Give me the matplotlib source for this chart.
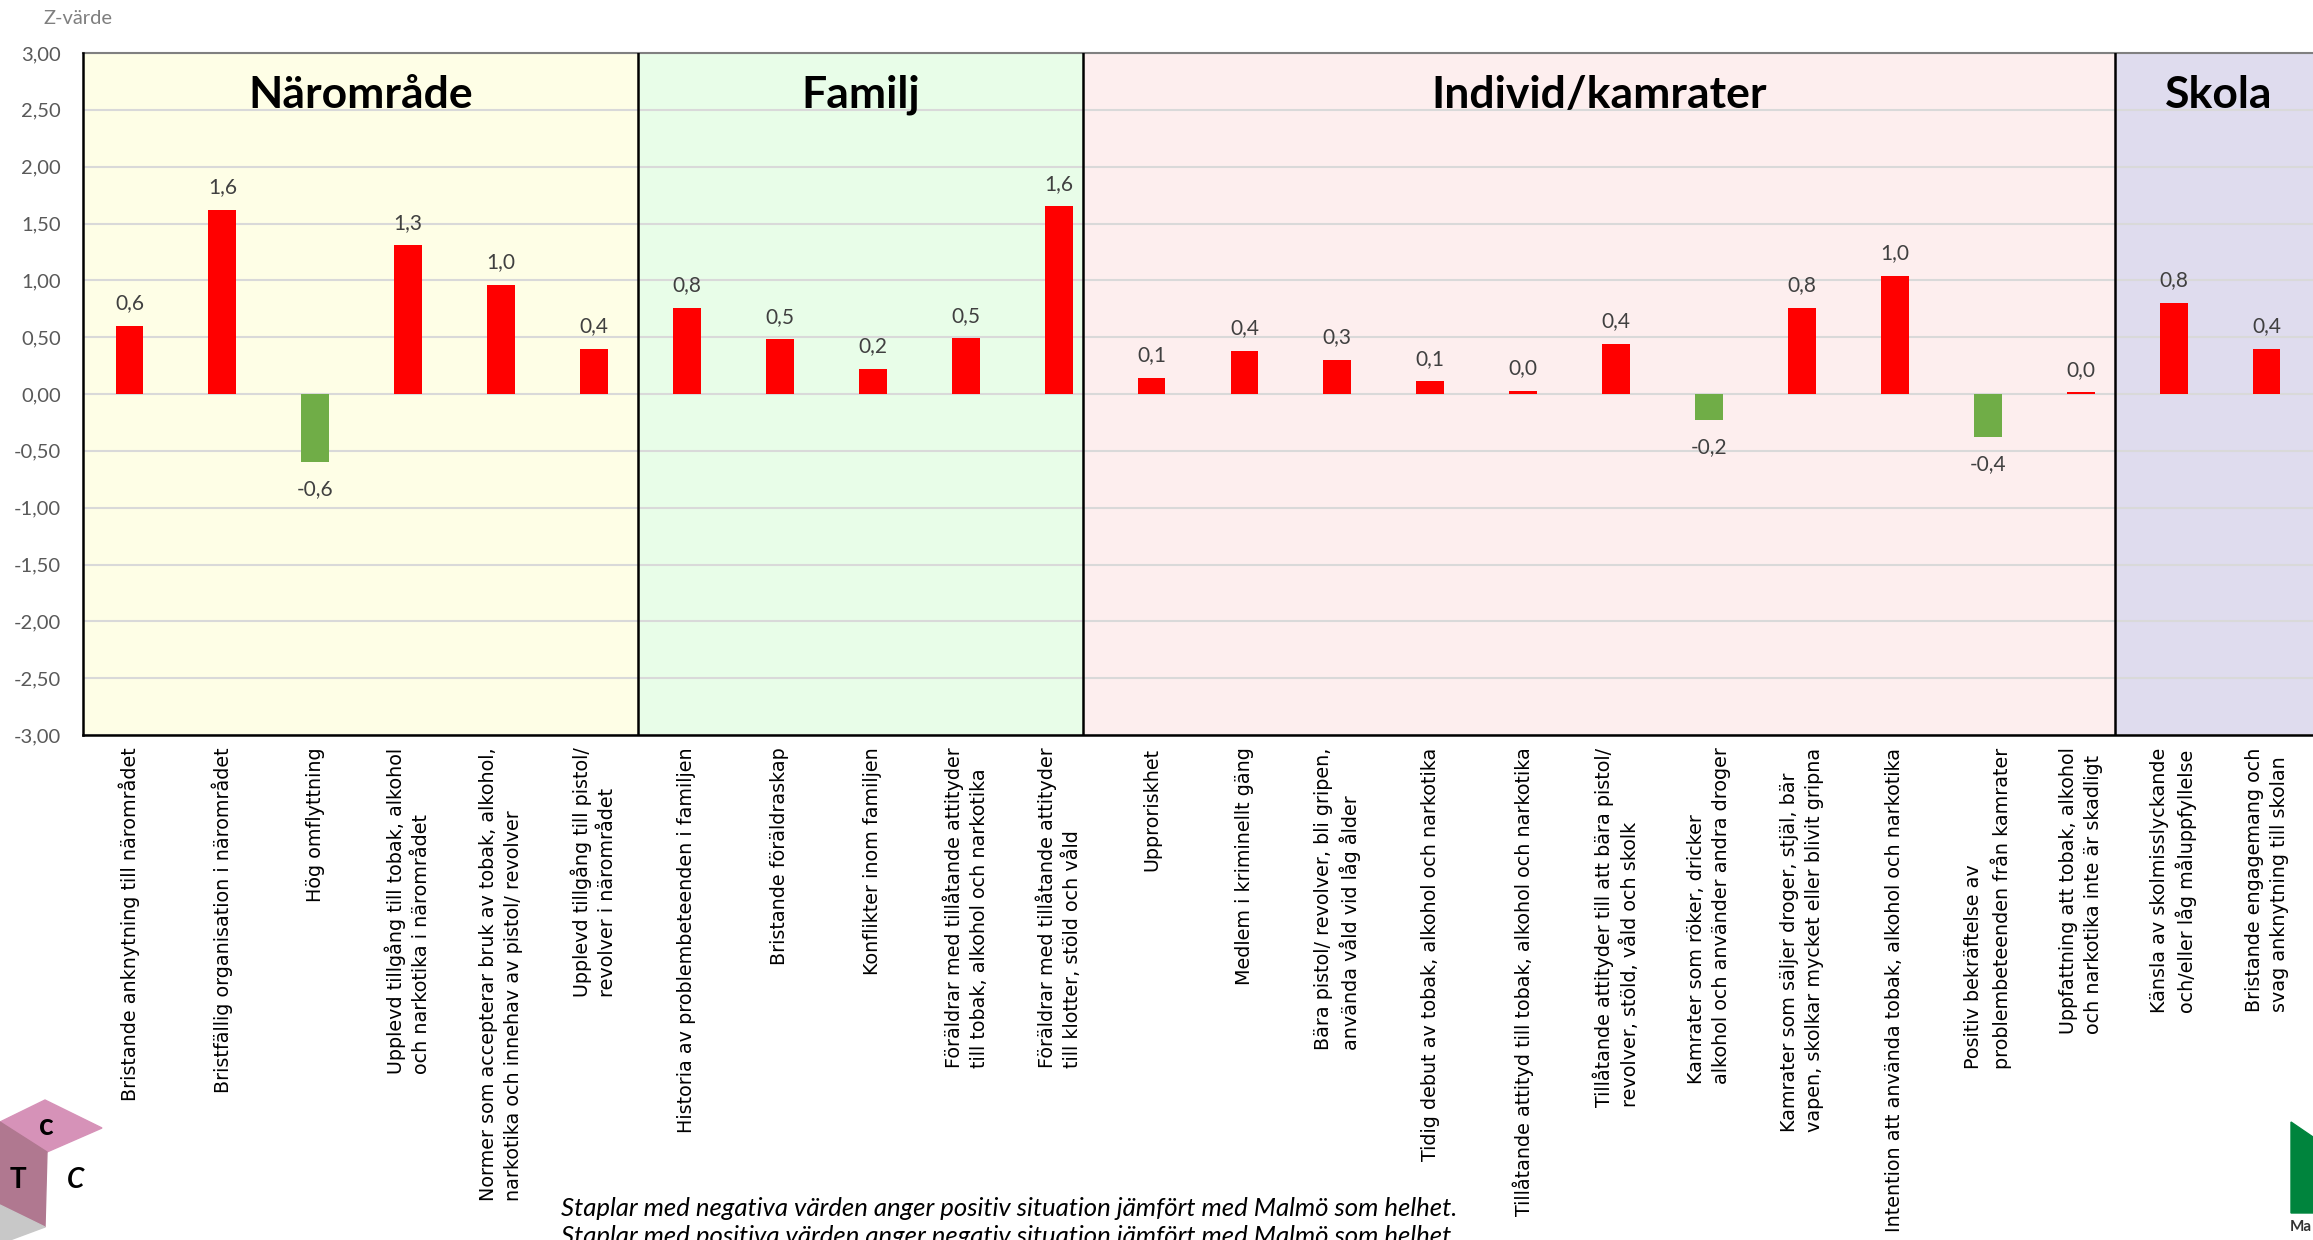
import matplotlib.pyplot as plt
import matplotlib.patches as mpatches
import numpy as np

# data
sections = ['Närområde', 'Familj', 'Individ/kamrater', 'Skola']
section_sizes = [6, 5, 11, 2]
section_colors = ['#FEFEE6', '#E8FDE8', '#FDEEEE', '#DFDCEE']

labels = [
    "Bristande anknytning till närområdet",
    "Bristfällig organisation i närområdet",
    "Hög omflyttning",
    "Upplevd tillgång till tobak, alkohol\noch narkotika i närområdet",
    "Normer som accepterar bruk av tobak, alkohol,\nnarkotika och innehav av pistol/ revolver",
    "Upplevd tillgång till pistol/\nrevolver i närområdet",
    "Historia av problembeteenden i familjen",
    "Bristande föräldraskap",
    "Konflikter inom familjen",
    "Föräldrar med tillåtande attityder\ntill tobak, alkohol och narkotika",
    "Föräldrar med tillåtande attityder\ntill klotter, stöld och våld",
    "Upproriskhet",
    "Medlem i kriminellt gäng",
    "Bära pistol/ revolver, bli gripen,\nanvända våld vid låg ålder",
    "Tidig debut av tobak, alkohol och narkotika",
    "Tillåtande attityd till tobak, alkohol och narkotika",
    "Tillåtande attityder till att bära pistol/\nrevolver, stöld, våld och skolk",
    "Kamrater som röker, dricker\nalkohol och använder andra droger",
    "Kamrater som säljer droger, stjäl, bär\nvapen, skolkar mycket eller blivit gripna",
    "Intention att använda tobak, alkohol och narkotika",
    "Positiv bekräftelse av\nproblembeteenden från kamrater",
    "Uppfattning att tobak, alkohol\noch narkotika inte är skadligt",
    "Känsla av skolmisslyckande\noch/eller låg måluppfyllelse",
    "Bristande engagemang och\nsvag anknytning till skolan",
]

values = [0.60, 1.62, -0.60, 1.31, 0.96, 0.40,
          0.76, 0.48, 0.22, 0.49, 1.65,
          0.14, 0.38, 0.30, 0.11, 0.03, 0.44, -0.23, 0.76, 1.04, -0.38, 0.015,
          0.80, 0.40]

footnotes = ["Staplar med negativa värden anger positiv situation jämfört med Malmö som helhet.",
             "Staplar med positiva värden anger negativ situation jämfört med Malmö som helhet."]

plt.rcParams['font.family'] = ['Lato', 'DejaVu Sans']

W, H = 2313, 1240
fig = plt.figure(figsize=(W / 100, H / 100), dpi=100)


def px(x, y):
    return (x / W, 1 - y / H)


ax = fig.add_axes([83 / W, 1 - 735 / H, 1 - 83 / W, (735 - 53) / H])

x = np.arange(len(values))
colors = ['#FF0000' if v >= 0 else '#70AD47' for v in values]
ax.bar(x, values, width=0.3, color=colors, zorder=3)

# section boxes (edges drawn slightly irregular like in the original)
edges = [-0.5, 5.47, 10.26, 21.37, 23.6]
for i, name in enumerate(sections):
    lo, hi = edges[i], edges[i + 1]
    ax.axvspan(lo, hi, color=section_colors[i], lw=0, zorder=0.2)
    ax.text((lo + hi) / 2, 2.63, name, ha='center', va='center',
            fontsize=32, fontweight='bold', color='black', zorder=5)
    if i > 0:
        ax.axvline(lo, color='black', lw=1.8, zorder=4)

for xi, v in zip(x, values):
    txt = f"{v:.1f}".replace('.', ',')
    if v >= 0:
        ax.annotate(txt, (xi, v), xytext=(0, 9), textcoords='offset points',
                    ha='center', va='bottom', fontsize=15, color='#404040')
    else:
        ax.annotate(txt, (xi, v), xytext=(0, -12), textcoords='offset points',
                    ha='center', va='top', fontsize=15, color='#404040')

ax.set_xlim(-0.5, 23.5)
ax.set_ylim(-3, 3)
yt = np.arange(-3, 3.01, 0.5)
ax.set_yticks(yt)
ax.set_yticklabels([f"{t:.2f}".replace('.', ',') for t in yt])
ax.yaxis.grid(True, color='#D9D9D9', lw=1.5)
ax.set_axisbelow(True)

ax.set_xticks(x)
ax.set_xticklabels(labels, rotation=90, fontfamily='DejaVu Sans', fontsize=13.8,
                   va='top', ha='center', linespacing=1.4)
for t in ax.get_xticklabels():
    t.set_multialignment('left')

ax.tick_params(axis='y', length=0, pad=16, labelsize=14.5, labelcolor='#595959')
ax.tick_params(axis='x', length=0, pad=9)

ax.spines['right'].set_visible(False)
ax.spines['top'].set_color('#808080')
ax.spines['top'].set_linewidth(1.5)
ax.spines['left'].set_color('black')
ax.spines['left'].set_linewidth(1.8)
ax.spines['bottom'].set_color('black')
ax.spines['bottom'].set_linewidth(1.8)
ax.spines['left'].set_zorder(6)
ax.spines['bottom'].set_zorder(6)

fig.text(*px(44, 19), 'Z-värde', ha='left', va='center', fontsize=14.5, color='#7F7F7F')

fig.text(*px(1009, 1208), footnotes[0], ha='center', va='center', style='italic',
         fontsize=18.5, color='black')
fig.text(*px(1009, 1237), footnotes[1], ha='center', va='center', style='italic',
         fontsize=18.5, color='black')

# CTC logo (cube)
top_face = [px(45, 1100), px(102, 1128), px(47, 1152), px(0, 1122)]
left_face = [px(0, 1122), px(47, 1152), px(45, 1227), px(0, 1205)]
shadow = [px(0, 1205), px(45, 1227), px(10, 1240), px(0, 1240)]
fig.add_artist(mpatches.Polygon(top_face, closed=True, color='#D692B8', transform=fig.transFigure))
fig.add_artist(mpatches.Polygon(left_face, closed=True, color='#B07890', transform=fig.transFigure))
fig.add_artist(mpatches.Polygon(shadow, closed=True, color='#C8C8C8', transform=fig.transFigure))
fig.text(*px(46, 1126), 'c', ha='center', va='center', fontsize=22, fontweight='bold')
fig.text(*px(18, 1180), 'T', ha='center', va='center', fontsize=20, fontweight='bold')
fig.text(*px(76, 1180), 'C', ha='center', va='center', fontsize=20, fontweight='bold',
         style='italic')

# Malmö logo piece
fig.add_artist(mpatches.Polygon([px(2291, 1122), px(2313, 1137), px(2313, 1213), px(2291, 1213)],
                                closed=True, color='#00843D', transform=fig.transFigure))
fig.text(*px(2290, 1227), 'Ma', ha='left', va='center', fontsize=11, fontweight='bold',
         color='#333333')

fig.savefig('out.png', dpi=100)
